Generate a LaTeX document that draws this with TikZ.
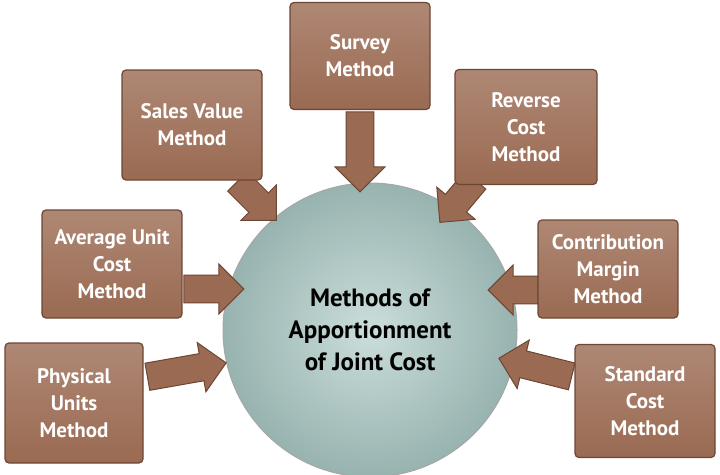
\documentclass[tikz,border=0pt]{standalone}
\usepackage{fontspec}
\setmainfont{PT Sans}
\usetikzlibrary{shapes.arrows, shadings}
\definecolor{boxbrown}{HTML}{9A6A52}
\definecolor{boxdark}{HTML}{6E4634}
\definecolor{hubteal}{HTML}{A8C7C3}
\tikzset{
method/.style={draw=boxdark, line width=1.2pt, rounded corners=4pt, top color=boxbrown!80!white, bottom color=boxbrown, text=white, font=\bfseries\fontsize{21}{27}\selectfont, align=center, inner sep=0},
pointer/.style={single arrow, draw=boxdark, line width=1pt, fill=boxbrown, minimum width=50, single arrow head extend=11, inner xsep=0, inner ysep=13, single arrow head indent=0}}
\begin{document}
\begin{tikzpicture}[x=1pt, y=-1pt]
\useasboundingbox (0,0) rectangle (720,474);
\node [circle, minimum size=294, draw=gray!70, line width=1pt, inner color=hubteal!60!white, outer color=hubteal!90!black, font=\bfseries\fontsize{25}{32}\selectfont, align=center, text=black] (hub) at (370,330) {Methods of\\Apportionment\\of Joint Cost};
% pointers
\node [pointer, minimum height=80, rotate=-90] (p-survey) at (360,145) {};
\node [pointer, minimum height=55, rotate=-45] (p-sales) at (252,196) {};
\node [pointer, minimum height=55, rotate=-130] (p-reverse) at (462,196) {};
\node [pointer, minimum height=60, rotate=0] (p-average) at (207,289) {};
\node [pointer, minimum height=50, rotate=180] (p-contrib) at (520,290) {};
\node [pointer, minimum height=80, rotate=10] (p-physical) at (180,371) {};
\node [pointer, minimum height=75, rotate=166] (p-standard) at (542,369) {};
% boxes
\node [method, minimum width=140, minimum height=107] (survey) at (360,56) {Survey\\Method};
\node [method, minimum width=140, minimum height=110] (sales) at (192,125) {Sales Value\\Method};
\node [method, minimum width=142, minimum height=115] (reverse) at (526,127) {Reverse\\Cost\\Method};
\node [method, minimum width=140, minimum height=108] (average) at (112,264) {Average Unit\\Cost\\Method};
\node [method, minimum width=140, minimum height=98] (contrib) at (608,269) {Contribution\\Margin\\Method};
\node [method, minimum width=138, minimum height=120] (physical) at (74,403) {Physical\\Units\\Method};
\node [method, minimum width=140, minimum height=113] (standard) at (645,401) {Standard\\Cost\\Method};
\end{tikzpicture}
\end{document}
